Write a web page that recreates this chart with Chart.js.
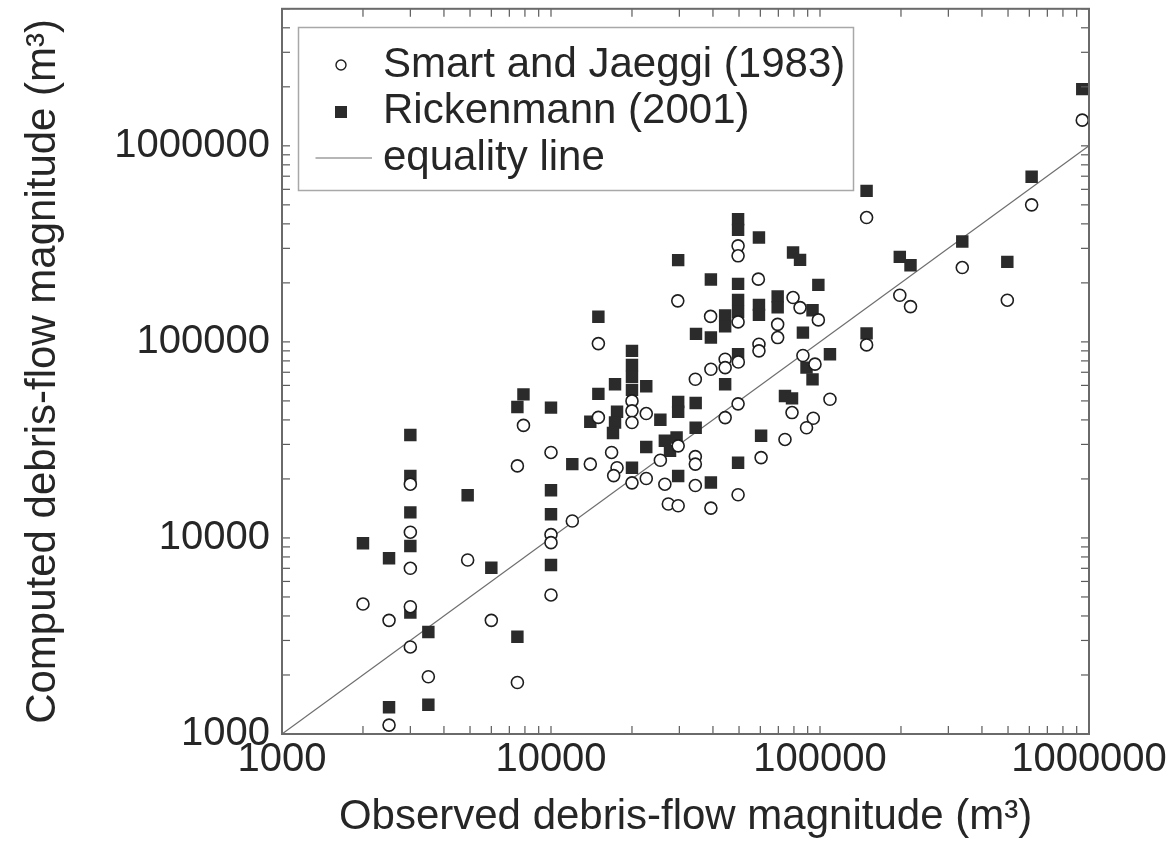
<!DOCTYPE html>
<html>
<head>
<meta charset="utf-8">
<script src="https://cdn.jsdelivr.net/npm/chart.js@4.4.1/dist/chart.umd.min.js"></script>
<style>
html,body{margin:0;padding:0;background:#fff;}
#wrap{width:1176px;height:861px;}
canvas{display:block;}
</style>
</head>
<body>
<div id="wrap"><canvas id="c" width="1176" height="861"></canvas></div>
<script>
// ---- data (m^3) ----
const sjObserved = [2000,2500,2500,3000,3000,3000,3000,3000,3500,4900,6000,7500,7500,10000,10000,10000,12000,7900,10000,14000,
  15000,15000,20000,20000,20000,22600,16800,17600,17100,20000,22600,25500,26500,27300,29700,29700,34400,34400,34400,39300,
  34400,39300,44400,44400,49700,49600,44400,49600,60400,59300,59300,69600,69600,86400,95800,78700,94400,89100,74100,108900,
  149000,98600,79400,84300,59000,49600,39200,29600,49600,49600,149000,198000,217000,338000,497000,612000,944000];
const sjComputed = [4600,3800,1110,18800,10700,7000,4460,2780,1960,7720,3800,23300,1830,10400,9460,5120,12200,37500,27300,23800,
  98000,41200,50000,44500,38800,43100,27300,22800,20800,19100,20100,24900,18800,14900,14600,29500,26000,23800,18500,14200,
  64500,72500,81600,73900,79000,48300,41100,16600,25700,97300,90000,122900,105200,85200,77000,43600,40800,36500,31800,51000,
  96500,129500,168300,149600,208900,126500,134900,161900,309000,274800,430700,173000,151400,239400,163200,500000,1352000];

const rkObserved = [2000,2500,2500,3000,3000,3000,3000,3000,3500,3500,4900,6000,7500,10000,10000,10000,12000,7900,7500,10000,
  15000,15000,14000,20000,20000,20000,20000,17300,22600,17600,17300,17000,25500,29700,29700,34500,34500,22600,26500,29300,
  27700,20000,29700,39300,34600,39300,44400,49600,44400,44400,39300,49600,29700,49600,49600,59300,59300,59300,49600,49600,
  79400,84300,98600,69600,69600,93800,86400,89100,93800,74100,78700,60400,49600,108900,149000,149000,198000,217000,338000,497000,
  612000,944000];
const rkComputed = [9400,7880,1370,33500,20700,13500,9100,4160,3310,1410,16500,7050,3130,17500,13200,7280,23800,54000,46600,46200,
  134200,54300,39100,90000,76300,66300,56900,60800,59400,44000,38800,34300,40100,49400,44000,48800,36500,29100,31300,32500,
  27800,22800,20700,19200,109900,105400,60800,86500,136500,120000,207900,197700,261200,163800,142200,154500,137300,340500,422700,372700,
  285500,262000,195400,170700,150000,145100,111500,73900,64400,53000,51500,33200,24200,86500,110500,589400,271500,246200,324900,256000,
  694900,1947000];

const equalityX = [1000, 1000000];
const equalityY = [1000, 1000000];

const tickLabels = ['1000', '10000', '100000', '1000000'];
const seriesNames = ['Smart and Jaeggi (1983)', 'Rickenmann (2001)', 'equality line'];
const xTitle = 'Observed debris-flow magnitude (m\u00B3)';
const yTitle = 'Computed debris-flow magnitude (m\u00B3)';

const toPoints = (xs, ys) => xs.map((x, i) => ({x: x, y: ys[i]}));
const decadeLabel = (v) => {
  const s = String(Math.round(v));
  return tickLabels.includes(s) ? s : '';
};

// small legend symbols (drawn once, used as legend point styles)
function legendSymbol(kind) {
  const c = document.createElement('canvas');
  const g = c.getContext('2d');
  if (kind === 'circle') {
    c.width = 14; c.height = 14;
    g.beginPath(); g.arc(7, 7, 5, 0, Math.PI * 2);
    g.fillStyle = '#ffffff'; g.fill();
    g.lineWidth = 1.4; g.strokeStyle = '#1e1e1e'; g.stroke();
  } else if (kind === 'square') {
    c.width = 12; c.height = 12;
    g.fillStyle = '#2b2b2b'; g.fillRect(0, 0, 12, 12);
  } else {
    c.width = 62; c.height = 4;
    g.strokeStyle = '#6e6e6e'; g.lineWidth = 1.2;
    g.beginPath(); g.moveTo(0, 2); g.lineTo(62, 2); g.stroke();
  }
  return c;
}
const legendSymbols = [legendSymbol('circle'), legendSymbol('square'), legendSymbol('line')];

Chart.defaults.font.family = "'Liberation Sans', Arial, Helvetica, sans-serif";
Chart.defaults.color = '#262626';

const framePlugin = {
  id: 'frameTicks',
  afterLayout(chart) {
    const lg = chart.legend;
    if (!lg) return;
    lg.left = 315.5; lg.top = 39.5;
    lg.width = 540; lg.height = 400;
    lg.right = lg.left + lg.width; lg.bottom = lg.top + lg.height;
  },
  afterDraw(chart) {
    const {ctx, chartArea: a, scales: {x, y}} = chart;
    ctx.save();
    ctx.strokeStyle = '#5a5a5a';
    ctx.lineWidth = 1.2;
    const seg = (x1, y1, x2, y2) => { ctx.beginPath(); ctx.moveTo(x1, y1); ctx.lineTo(x2, y2); ctx.stroke(); };
    const len = 8;
    for (let e = 3; e <= 6; e++) {
      for (let m = 1; m <= 9; m++) {
        const v = m * Math.pow(10, e);
        if (v >= x.min && v <= x.max) {
          const px = x.getPixelForValue(v);
          seg(px, a.bottom, px, a.bottom - len);
          seg(px, a.top, px, a.top + len);
        }
        if (v >= y.min && v <= y.max) {
          const py = y.getPixelForValue(v);
          seg(a.left, py, a.left + len, py);
          seg(a.right, py, a.right - len, py);
        }
      }
    }
    ctx.lineWidth = 2;
    ctx.strokeStyle = '#6a6a6a';
    ctx.strokeRect(a.left, a.top, a.right - a.left, a.bottom - a.top);
    // legend frame
    const lg = chart.legend;
    if (lg) {
      ctx.lineWidth = 1.5;
      ctx.strokeStyle = '#a8a8a8';
      ctx.strokeRect(lg.left - 17, lg.top - 12, 555, 163);
    }
    ctx.restore();
  }
};

new Chart(document.getElementById('c'), {
  type: 'scatter',
  data: {
    datasets: [
      {
        label: seriesNames[0],
        data: toPoints(sjObserved, sjComputed),
        pointStyle: 'circle',
        pointRadius: 6,
        borderWidth: 1.6,
        borderColor: '#1e1e1e',
        backgroundColor: '#ffffff',
        order: 0
      },
      {
        label: seriesNames[1],
        data: toPoints(rkObserved, rkComputed),
        pointStyle: 'rect',
        pointRadius: 8.8,
        borderWidth: 0,
        borderColor: '#2b2b2b',
        backgroundColor: '#2b2b2b',
        order: 1
      },
      {
        type: 'line',
        label: seriesNames[2],
        data: toPoints(equalityX, equalityY),
        showLine: true,
        borderColor: '#6e6e6e',
        borderWidth: 1.2,
        pointRadius: 0,
        fill: false,
        order: 2
      }
    ]
  },
  options: {
    responsive: false,
    animation: false,
    devicePixelRatio: 1,
    layout: {padding: {left: 0, top: 8, right: 87, bottom: 0}},
    plugins: {
      tooltip: {enabled: false},
      legend: {
        display: true,
        position: 'chartArea',
        align: 'start',
        labels: {
          usePointStyle: true,
          boxWidth: 42,
          boxHeight: 12,
          padding: 4.5,
          color: '#262626',
          font: {size: 42},
          generateLabels(chart) {
            const items = Chart.defaults.plugins.legend.labels.generateLabels(chart);
            items.forEach((it) => { it.pointStyle = legendSymbols[it.datasetIndex]; });
            return items;
          }
        }
      }
    },
    scales: {
      x: {
        type: 'logarithmic',
        min: 1000,
        max: 1000000,
        grid: {display: false, drawTicks: false},
        border: {display: false},
        ticks: {
          autoSkip: false, maxRotation: 0, minRotation: 0, padding: 2,
          font: {size: 40}, color: '#262626',
          callback: (v) => decadeLabel(v)
        },
        title: {display: true, text: xTitle, font: {size: 42}, color: '#262626', padding: {top: 0, bottom: 18}},
        afterFit(s) { s.height = 127; s.paddingLeft = 0; s.paddingRight = 0; }
      },
      y: {
        type: 'logarithmic',
        min: 1000,
        max: 5000000,
        grid: {display: false, drawTicks: false},
        border: {display: false},
        ticks: {
          autoSkip: false, padding: 12,
          font: {size: 40}, color: '#262626',
          callback: (v) => decadeLabel(v)
        },
        title: {display: true, text: yTitle, font: {size: 42}, color: '#262626', padding: {top: 18, bottom: 0}},
        afterFit(s) { s.width = 282; s.paddingTop = 0; s.paddingBottom = 0; }
      }
    }
  },
  plugins: [framePlugin]
});
</script>
</body>
</html>
